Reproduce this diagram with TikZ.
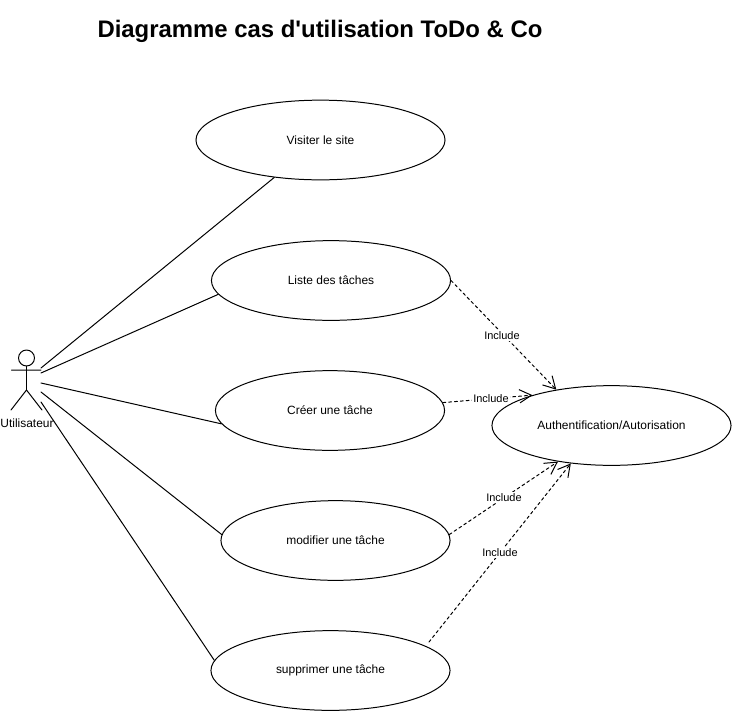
\documentclass[tikz,border=0pt]{standalone}
\usepackage{fontspec}
\setmainfont{Liberation Sans}
\usetikzlibrary{arrows.meta,shapes.geometric}
\tikzset{
  usecase/.style={draw,ellipse,minimum width=#1*0.75pt,minimum height=60pt,inner sep=0pt,line width=0.75pt,font=\fontsize{9}{11}\selectfont},
  assoc/.style={line width=0.75pt},
  incl/.style={line width=0.75pt,dash pattern=on 2.2pt off 2.2pt,-{Straight Barb[length=9pt,width=10pt,line width=0.75pt]}},
  incllabel/.style={fill=white,inner sep=1pt,font=\fontsize{8.25}{10}\selectfont}
}
\begin{document}
\begin{tikzpicture}[x=0.0264583cm,y=-0.0264583cm,line cap=round,line join=round]
\useasboundingbox (0,0) rectangle (732,711);
\node[font=\bfseries\fontsize{18}{22}\selectfont,inner sep=0pt] (title) at (320,31) {Diagramme cas d\textquotesingle utilisation ToDo \& Co};
% actor
\node[draw,circle,line width=0.75pt,minimum size=12pt,inner sep=0pt] (head) at (26.5,358) {};
\coordinate (hip) at (26.5,390);
\coordinate (footl) at (11,410);
\coordinate (footr) at (42,410);
\coordinate (arml) at (11.5,370);
\coordinate (armr) at (41,370);
\draw[assoc] (head.south) -- (hip) (arml) -- (armr) (hip) -- (footl) (hip) -- (footr);
\node[font=\fontsize{9}{11}\selectfont,inner sep=0pt] (actor) at (27,423) {Utilisateur};
% use cases
\node[usecase=250] (visit) at (320.5,140) {Visiter le site};
\node[usecase=240] (list) at (331,280.5) {Liste des tâches};
\node[usecase=230] (create) at (330,410.5) {Créer une tâche};
\node[usecase=230] (edit) at (335.5,540.5) {modifier une tâche};
\node[usecase=240] (del) at (330.5,670.5) {supprimer une tâche};
\node[usecase=240] (auth) at (611.5,425.5) {Authentification/Autorisation};
% associations
\coordinate (a1) at (41,368);
\coordinate (a2) at (41,373);
\coordinate (a3) at (41,383);
\coordinate (a4) at (41,392);
\coordinate (a5) at (41,402);
\draw[assoc] (a1) -- (visit.219.4);
\draw[assoc] (a2) -- (list.187);
\draw[assoc] (a3) -- (create.187);
\draw[assoc] (a4) -- (edit.177.5);
\draw[assoc] (a5) -- (del.175);
% includes
\coordinate (delout) at (429,642);
\draw[incl] (list.east) -- (auth.147.5);
\draw[incl] (create.4) -- (auth.159);
\draw[incl] (edit.3.5) -- (auth.214.4);
\draw[incl] (delout) -- (auth.223.6);
\node[incllabel] (inc1) at (502,335.5) {Include};
\node[incllabel] (inc2) at (491,398.5) {Include};
\node[incllabel] (inc3) at (504,497.5) {Include};
\node[incllabel] (inc4) at (500,552.5) {Include};
\end{tikzpicture}
\end{document}
